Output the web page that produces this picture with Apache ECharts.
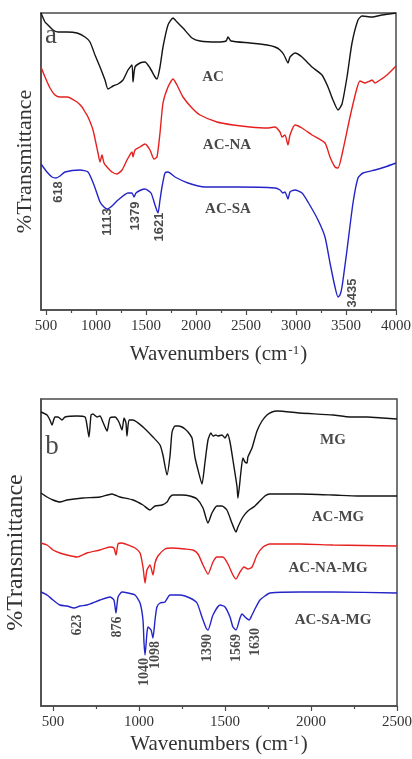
<!DOCTYPE html>
<html><head><meta charset="utf-8">
<script src="https://cdn.jsdelivr.net/npm/echarts@6/dist/echarts.min.js"></script>
<style>html,body{margin:0;padding:0;background:#fff}#c{width:412px;height:759px}</style>
</head><body><div id="c"></div>
<script>
// ---- Panel a: tick values ----
const ticksA = [500, 1000, 1500, 2000, 2500, 3000, 3500, 4000];
const minorA = [750, 1250, 1750, 2250, 2750, 3250, 3750];
// ---- Panel b: tick values ----
const ticksB = [500, 1000, 1500, 2000, 2500];
const minorB = [750, 1250, 1750, 2250];

// ---- Panel a spectra: [wavenumber, relative transmittance] ----
const specAC = [[450,297],[490,288],[520,285],[570,280],[620,278],[710,278],[810,277],[890,273],[940,268],[990,255],[1040,243],[1090,230],[1120,221],[1170,224],[1220,226],[1270,230],[1320,240],[1360,245],[1370,228],[1390,243],[1440,247],[1490,248],[1540,242],[1590,233],[1610,231],[1640,243],[1670,263],[1720,285],[1770,292],[1810,288],[1870,282],[1960,272],[2040,269],[2210,268],[2300,269],[2320,273],[2350,269],[2540,267],[2710,265],[2790,263],[2840,260],[2880,255],[2920,247],[2940,253],[2990,257],[3060,253],[3160,243],[3260,235],[3320,223],[3370,210],[3420,200],[3460,206],[3510,233],[3560,267],[3620,290],[3660,294],[3760,293],[3860,295],[4000,297]];
const specACNA = [[450,243],[490,233],[540,222],[590,215],[640,213],[710,213],[810,208],[860,203],[890,198],[920,193],[970,180],[1020,157],[1040,148],[1060,155],[1080,147],[1110,143],[1160,138],[1210,136],[1260,140],[1310,150],[1360,158],[1370,153],[1390,160],[1440,163],[1490,166],[1540,160],[1580,151],[1610,153],[1640,177],[1670,207],[1720,223],[1770,231],[1810,225],[1870,213],[1960,202],[2040,195],[2210,188],[2370,185],[2540,183],[2710,182],[2790,183],[2840,178],[2860,173],[2890,175],[2920,165],[2940,175],[2990,185],[3060,182],[3160,175],[3290,167],[3340,153],[3390,143],[3420,142],[3470,160],[3540,193],[3610,222],[3640,229],[3690,227],[3740,229],[3760,230],[3790,227],[3840,230],[3910,235],[4000,244]];
const specACSA = [[450,146],[510,138],[560,133],[600,132],[640,134],[690,138],[840,140],[920,138],[980,125],[1040,108],[1080,103],[1110,101],[1160,104],[1220,110],[1320,117],[1360,117],[1380,113],[1400,117],[1450,120],[1490,121],[1550,117],[1590,105],[1620,97],[1640,110],[1660,123],[1690,137],[1720,138],[1790,133],[1920,127],[2090,123],[2420,123],[2790,122],[2840,120],[2870,117],[2890,118],[2920,111],[2940,118],[2990,120],[3060,117],[3120,108],[3220,90],[3290,73],[3340,47],[3390,23],[3420,13],[3440,15],[3460,23],[3510,60],[3570,107],[3620,132],[3670,137],[3790,140],[3890,143],[4000,147]];

// ---- Panel b spectra ----
const specMG = [[430,294],[465,291],[482,286],[494,281],[511,289],[529,289],[552,286],[570,289],[639,290],[686,289],[697,281],[709,269],[721,291],[732,292],[756,289],[773,290],[790,284],[814,275],[831,288],[860,289],[883,284],[901,276],[913,288],[924,283],[930,270],[942,286],[965,286],[1023,279],[1081,269],[1122,261],[1139,251],[1163,231],[1180,250],[1192,274],[1209,280],[1227,280],[1250,279],[1267,277],[1285,274],[1308,268],[1325,249],[1343,236],[1366,222],[1383,243],[1401,266],[1418,273],[1430,270],[1447,271],[1459,270],[1482,271],[1500,268],[1515,272],[1529,264],[1546,246],[1570,219],[1575,208],[1593,235],[1604,248],[1616,244],[1628,243],[1633,249],[1657,258],[1686,275],[1715,285],[1744,291],[1773,294],[1802,295],[1936,293],[2128,291],[2227,289],[2325,289],[2418,288],[2500,287]];
const specACMG = [[430,213],[465,209],[500,206],[540,204],[581,206],[674,208],[773,209],[843,212],[860,211],[889,209],[965,206],[1023,201],[1064,196],[1093,200],[1134,201],[1163,204],[1180,209],[1197,211],[1250,211],[1296,210],[1337,207],[1372,198],[1401,183],[1424,193],[1453,200],[1482,200],[1511,196],[1540,183],[1564,174],[1575,179],[1604,189],[1633,195],[1674,200],[1732,210],[1761,212],[1936,212],[2128,211],[2273,210],[2500,210]];
const specACNAMG = [[430,163],[465,161],[500,156],[540,153],[581,151],[639,149],[697,153],[773,156],[831,159],[854,158],[866,151],[878,162],[901,163],[936,161],[977,158],[1006,153],[1023,139],[1035,123],[1046,136],[1064,141],[1081,131],[1093,143],[1110,150],[1151,157],[1192,158],[1267,157],[1314,156],[1343,152],[1372,141],[1401,132],[1430,144],[1453,149],[1488,149],[1517,142],[1546,131],[1564,127],[1587,134],[1610,139],[1633,137],[1657,139],[1686,151],[1721,159],[1761,162],[1936,162],[2128,161],[2500,160]];
const specACSAMG = [[430,114],[465,111],[500,106],[540,101],[581,100],[622,98],[657,100],[697,101],[773,106],[831,109],[854,106],[866,93],[878,109],[901,114],[936,113],[977,111],[1006,103],[1023,86],[1029,63],[1035,51],[1046,73],[1052,79],[1070,76],[1081,68],[1093,86],[1104,99],[1122,103],[1151,104],[1180,111],[1238,111],[1296,108],[1337,103],[1366,89],[1390,78],[1401,76],[1430,91],[1471,101],[1500,99],[1529,89],[1546,79],[1564,76],[1587,88],[1599,92],[1616,89],[1640,86],[1657,91],[1674,97],[1703,106],[1732,110],[1761,113],[1936,114],[2128,114],[2500,113]];

// ---- Annotations: [text, wavenumber, value] ----
const namesA = [['AC',2170,233],['AC-NA',2310,165],['AC-SA',2320,101]];
const peaksA = [['618',620,118],['1113',1110,88],['1379',1390,94],['1621',1630,83],['3435',3560,17]];
const namesB = [['MG',2128,266],['AC-MG',2157,189],['AC-NA-MG',2099,138],['AC-SA-MG',2128,86]];
const peaksB = [['623',639,81],['876',872,79],['1040',1029,34],['1098',1093,51],['1390',1395,58],['1569',1564,58],['1630',1674,64]];
const lettersA = [['a',550,274]];
const lettersB = [['b',494,259]];

const BLACK = '#141414', RED = '#e5211f', BLUE = '#2424c8';
const serif = 'Liberation Serif';
const sans = 'Liberation Sans';

function xAxes(grid, min, max, ticks, minor, gap) {
  return [{
    type:'value', gridIndex:grid, min:min, max:max, position:'bottom',
    axisLine:{show:true, lineStyle:{color:'#4a4a4a', width:1.5}},
    axisTick:{show:true, customValues:ticks, length:5, lineStyle:{color:'#4a4a4a', width:1.2}},
    axisLabel:{customValues:ticks, margin:9, fontFamily:serif, fontSize:15, color:'#333', formatter: v => String(v)},
    splitLine:{show:false},
    name:'Wavenumbers (cm{sup|-1})', nameLocation:'middle', nameGap:gap,
    nameTextStyle:{fontFamily:serif, fontSize:21, color:'#333',
      rich:{sup:{fontFamily:serif, fontSize:13, color:'#333', verticalAlign:'top', padding:[0,1,0,1]}}}
  },{
    type:'value', gridIndex:grid, min:min, max:max, position:'bottom',
    axisLine:{show:false},
    axisTick:{show:true, customValues:minor, length:3, lineStyle:{color:'#4a4a4a', width:1.2}},
    axisLabel:{show:false}, splitLine:{show:false}
  }];
}
function yAxis(grid, max, gap, fs) {
  return {
    type:'value', gridIndex:grid, min:0, max:max,
    axisLine:{show:true, lineStyle:{color:'#4a4a4a', width:1.5}},
    axisTick:{show:false}, axisLabel:{show:false}, splitLine:{show:false},
    name:'%Transmittance', nameLocation:'middle', nameRotate:90, nameGap:gap,
    nameTextStyle:{fontFamily:serif, fontSize:fs, color:'#333'}
  };
}
function lineSeries(data, color, xi, yi) {
  return {type:'line', data:data, xAxisIndex:xi, yAxisIndex:yi, showSymbol:false,
    smooth:0.2, lineStyle:{color:color, width:1.4}, silent:true, animation:false};
}
function textSeries(items, xi, yi, font) {
  return {type:'scatter', xAxisIndex:xi, yAxisIndex:yi, symbolSize:0.1, silent:true, animation:false,
    itemStyle:{color:'rgba(0,0,0,0)'},
    data: items.map(d => ({value:[d[1], d[2]], label:Object.assign({formatter:d[0]}, font)})),
    label:Object.assign({show:true, position:'inside', align:'center', verticalAlign:'middle', color:'#1a1a1a'}, font)};
}

const chart = echarts.init(document.getElementById('c'), null, {renderer:'canvas'});
chart.setOption({
  backgroundColor:'#fff',
  animation:false,
  grid:[
    {left:41, top:13, width:355, height:297, show:true, borderColor:'#4a4a4a', borderWidth:1.5, backgroundColor:'transparent', containLabel:false, outerBoundsMode:'none'},
    {left:41, top:399, width:356, height:307, show:true, borderColor:'#4a4a4a', borderWidth:1.5, backgroundColor:'transparent', containLabel:false, outerBoundsMode:'none'}
  ],
  xAxis: [].concat(xAxes(0, 450, 4000, ticksA, minorA, 34), xAxes(1, 430, 2500, ticksB, minorB, 28)),
  yAxis: [yAxis(0, 297, 5, 22), yAxis(1, 307, 13, 24)],
  series: [
    lineSeries(specAC, BLACK, 0, 0),
    lineSeries(specACNA, RED, 0, 0),
    lineSeries(specACSA, BLUE, 0, 0),
    lineSeries(specMG, BLACK, 2, 1),
    lineSeries(specACMG, BLACK, 2, 1),
    lineSeries(specACNAMG, RED, 2, 1),
    lineSeries(specACSAMG, BLUE, 2, 1),
    textSeries(namesA, 0, 0, {fontFamily:serif, fontWeight:'bold', fontSize:15}),
    textSeries(peaksA, 0, 0, {fontFamily:sans, fontWeight:'bold', fontSize:13, rotate:90}),
    textSeries(namesB, 2, 1, {fontFamily:serif, fontWeight:'bold', fontSize:15}),
    textSeries(peaksB, 2, 1, {fontFamily:serif, fontWeight:'bold', fontSize:14, rotate:90}),
    textSeries(lettersA, 0, 0, {fontFamily:serif, fontSize:27}),
    textSeries(lettersB, 2, 1, {fontFamily:serif, fontSize:27})
  ]
});
</script></body></html>
